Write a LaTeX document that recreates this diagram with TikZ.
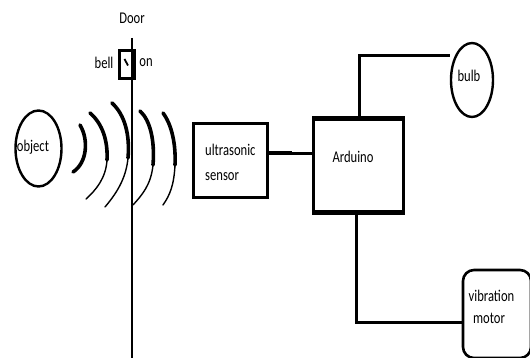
\documentclass[tikz,border=0pt]{standalone}
\usepackage{fontspec}
\usepackage{graphicx}
\setmainfont{Carlito}
\usetikzlibrary{shapes.geometric}
\newcommand{\tx}[1]{\scalebox{1}[1.3]{#1}}
\begin{document}
\begin{tikzpicture}[x=1pt,y=-1pt,
  lbl/.style={inner sep=0pt,font=\fontsize{12.6}{15}\selectfont},
  blk/.style={draw,line width=3pt,inner sep=0pt},
  oval/.style={draw,ellipse,line width=2.4pt,inner sep=0pt},
  wire/.style={line width=3pt},
  thickwave/.style={line width=3.6pt,line cap=round},
  thinwave/.style={line width=1.4pt,line cap=round}]
\useasboundingbox[fill=white] (0,0) rectangle (530,358);
% door
\coordinate (dtop) at (132,38);
\coordinate (dbot) at (132,358);
\draw[line width=2pt] (dtop) -- (dbot);
\node[lbl] (door) at (132,18) {\tx{Door}};
\node[draw,line width=2.6pt,minimum width=15pt,minimum height=28pt,inner sep=0pt] (bellbox) at (127,64.5) {};
\draw[line width=1.8pt] (124.5,59) -- (128,65.5);
\node[lbl] (bell) at (104,63) {\tx{bell}};
\node[lbl] (on) at (146,63) {\tx{on}};
% object
\node[oval,minimum width=46pt,minimum height=76pt] (obj) at (38.5,148.5) {};
\node[lbl] (object) at (33,147) {\tx{object}};
% waves
\draw[thickwave] (80,125) .. controls (89,140) and (87,163) .. (73,172);
\draw[thickwave] (90,113) .. controls (103,124) and (108,142) .. (107,160);
\draw[thinwave] (107,160) .. controls (106,178) and (96,190) .. (86,199);
\draw[thickwave] (112,103) .. controls (125,115) and (130,135) .. (128,158);
\draw[thinwave] (128,158) .. controls (126,180) and (115,195) .. (105,207);
\draw[thickwave] (140,111) .. controls (150,120) and (155,140) .. (153,165);
\draw[thinwave] (153,165) .. controls (151,185) and (142,195) .. (133,205);
\draw[thickwave] (163,113) .. controls (172,125) and (176,145) .. (175,165);
\draw[thinwave] (175,165) .. controls (174,185) and (170,195) .. (163,205);
% sensor
\node[blk,line width=2.6pt,minimum width=74pt,minimum height=74pt] (sensor) at (230.5,160.5) {};
\node[lbl,anchor=west] (sensortxt1) at (205,150) {\tx{ultrasonic}};
\node[lbl,anchor=west] (sensortxt2) at (205,176.5) {\tx{sensor}};
% arduino
\node[blk,minimum width=90pt,minimum height=92pt] (ard) at (358.5,165.5) {};
\draw[line width=4.2pt] (ard.north west) -- (ard.north east);
\draw[line width=4.2pt] (ard.south west) -- (ard.south east);
\node[lbl] (ardtxt) at (353,157) {\tx{Arduino}};
% bulb
\node[oval,minimum width=42pt,minimum height=74pt] (bulb) at (472,80) {};
\node[lbl] (bulbtxt) at (469,76) {\tx{bulb}};
% motor
\node[draw,line width=2.6pt,rounded corners=11pt,minimum width=68pt,minimum height=88pt,inner sep=0pt] (motor) at (497,314) {};
\node[lbl] (motortxt1) at (491.5,296) {\tx{vibration}};
\node[lbl] (motortxt2) at (489,318) {\tx{motor}};
% wires
\coordinate (jt) at (359,56);
\coordinate (jb) at (356,322);
\coordinate (js) at (292,154);
\draw[line width=3.6pt] (sensor.east |- 0,153) -- (js |- 0,153);
\draw[wire] (js) -- (ard.west |- js);
\draw[wire] (ard.north -| jt) -- (jt) -- (jt -| bulb.west);
\draw[wire] (ard.south -| jb) -- (jb) -- (jb -| motor.west);
\end{tikzpicture}
\end{document}
